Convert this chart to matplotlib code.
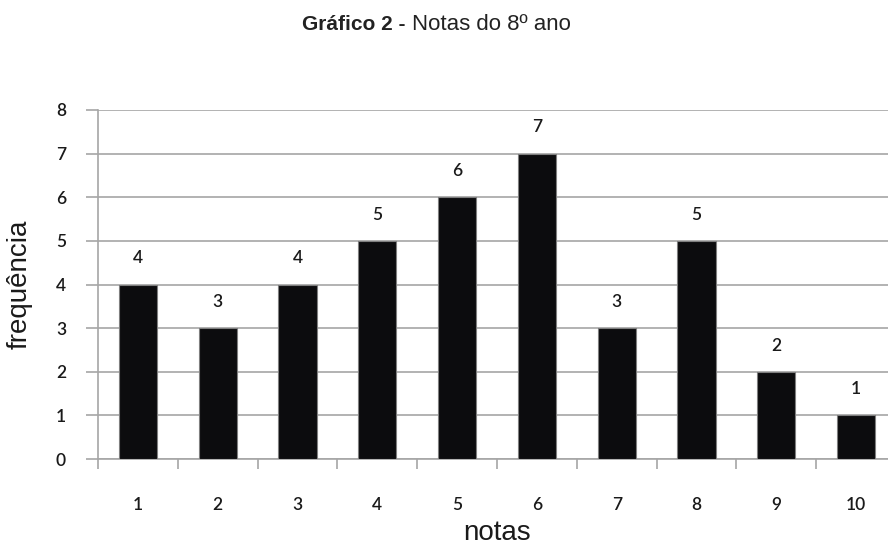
import numpy as np
import matplotlib.pyplot as plt

# notas do 8o ano e quantos alunos tiraram cada uma
notas = [1, 2, 3, 4, 5, 6, 7, 8, 9, 10]
frequencia = [4, 3, 4, 5, 6, 7, 3, 5, 2, 1]
y_ticks = [0, 1, 2, 3, 4, 5, 6, 7, 8]

tick_font = 'Lato'
label_font = 'Liberation Sans'
grid_cor = '#a6a6a6'
texto_cor = '#1a1a1a'

fig = plt.figure(figsize=(8.88, 5.47), dpi=100)
ax = fig.add_axes([98/888, 1-459/547, 798/888, 349/547])

x = np.arange(len(notas))
ax.bar(x, frequencia, width=0.48, color='#0c0c0e', edgecolor='#7f7f7f',
       linewidth=0.8, zorder=3)

# valor em cima de cada barra
for xi, v in zip(x, frequencia):
    ax.text(xi, v + 0.6, str(v), ha='center', va='center', fontsize=12.5,
            family=tick_font, fontweight='semibold', color=texto_cor)

ax.set_xlim(-0.5, len(notas) - 0.5)
ax.set_ylim(0, 8)

# rotulos no centro, tracinhos entre as categorias
ax.set_xticks(x)
ax.set_xticklabels([str(n) for n in notas], fontsize=12.5, family=tick_font,
                   fontweight='semibold', color=texto_cor)
ax.set_xticks(np.arange(-0.5, len(notas)), minor=True)
ax.tick_params(axis='x', which='major', length=0, pad=27)
ax.tick_params(axis='x', which='minor', length=7, width=1.2, color=grid_cor)

ax.set_yticks(y_ticks)
ax.set_yticklabels([str(v) for v in y_ticks], fontsize=12.5, family=tick_font,
                   fontweight='semibold', color=texto_cor)
ax.tick_params(axis='y', length=9, width=1.2, color=grid_cor, pad=14)

ax.grid(axis='y', color=grid_cor, linewidth=1.2, zorder=0)
ax.set_axisbelow(True)
for s in ['top', 'right']:
    ax.spines[s].set_visible(False)
for s in ['left', 'bottom']:
    ax.spines[s].set_color(grid_cor)
    ax.spines[s].set_linewidth(1.2)

ax.set_xlabel('notas', fontsize=20, family=label_font, color=texto_cor)
ax.set_ylabel('frequência', fontsize=20, family=label_font, color=texto_cor)
ax.xaxis.set_label_coords(0.5, -0.176)
ax.yaxis.set_label_coords(-0.082, 0.5)

# titulo: parte em negrito e parte normal
ty = 1 - 25/547
fig.text(405/888, ty, 'Gráfico 2 -', ha='right', va='center', fontsize=15,
         fontweight='bold', family=label_font, color='#222222')
fig.text(412/888, ty, 'Notas do 8º ano', ha='left', va='center', fontsize=16,
         family=label_font, color='#222222')

plt.savefig('out.png', dpi=100)
